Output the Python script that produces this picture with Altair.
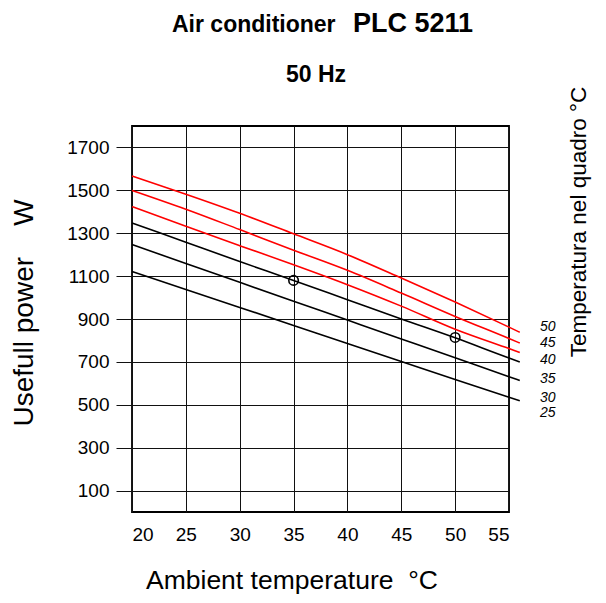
import altair as alt
import pandas as pd

# Ambient temperature (°C) at which the curves are read
temps = [20, 25, 30, 35, 40, 45, 50, 55, 56]

# Useful power (W) per cabinet temperature curve
power_50 = [1567, 1482, 1393, 1297, 1200, 1091, 979, 862, 838]
power_45 = [1500, 1412, 1317, 1221, 1127, 1021, 912, 809, 788]
power_40 = [1424, 1332, 1242, 1153, 1060, 960, 852, 762, 744]
power_35 = [1348, 1258, 1168, 1080, 990, 900, 812, 718, 700]
power_30 = [1247, 1159, 1071, 983, 895, 807, 719, 631, 613]
power_25 = [1122, 1038, 954, 870, 786, 702, 618, 535, 519]

series_names = ["50", "45", "40", "35", "30", "25"]
series_values = [power_50, power_45, power_40, power_35, power_30, power_25]
series_colors = ["#ff0000", "#ff0000", "#ff0000", "#000000", "#000000", "#000000"]

# Marked operating points
point_t = [35, 50]
point_w = [1080, 814]

# Curve labels on the right (value axis position of each label)
label_text = ["50", "45", "40", "35", "30", "25"]
label_w = [865, 788, 710, 620, 532, 462]

x_ticks = [20, 25, 30, 35, 40, 45, 50, 55]
y_ticks = list(range(100, 1800, 100))

FONT = "Liberation Sans"
NB = "\u00a0"

rows = []
for name, vals in zip(series_names, series_values):
    for t, w in zip(temps, vals):
        rows.append({"t": t, "w": w, "curve": name})
df_lines = pd.DataFrame(rows)
df_points = pd.DataFrame({"t": point_t, "w": point_w})
df_labels = pd.DataFrame({"label": label_text, "w": label_w})
one = pd.DataFrame({"a": [0]})

xscale = alt.Scale(domain=[20, 55], nice=False, zero=False)
yscale = alt.Scale(domain=[0, 1800], nice=False, zero=False)

xaxis = alt.Axis(values=x_ticks, grid=True, gridColor="#111111", gridWidth=1,
                 domain=False, ticks=False, labelPadding=13, labelFontSize=19,
                 labelColor="black", labelFont=FONT, title=None)
yaxis = alt.Axis(values=y_ticks, grid=True, gridColor="#111111", gridWidth=1,
                 domain=False, ticks=True, tickSize=16, tickColor="#111111",
                 tickWidth=1, labelPadding=7, labelFontSize=19, labelColor="black",
                 labelFont=FONT, format="d",
                 labelExpr="datum.value % 200 == 100 ? datum.label : ''", title=None)

lines = alt.Chart(df_lines).mark_line(strokeWidth=1.6, interpolate="monotone").encode(
    x=alt.X("t:Q", scale=xscale, axis=xaxis),
    y=alt.Y("w:Q", scale=yscale, axis=yaxis),
    color=alt.Color("curve:N", scale=alt.Scale(domain=series_names, range=series_colors), legend=None),
    detail="curve:N",
)

points = alt.Chart(df_points).mark_point(shape="circle", size=90, filled=False,
                                         color="black", strokeWidth=1.6, opacity=1).encode(
    x=alt.X("t:Q", scale=xscale),
    y=alt.Y("w:Q", scale=yscale),
)

labels = alt.Chart(df_labels).mark_text(align="left", baseline="middle", fontStyle="italic",
                                        fontSize=14, font=FONT, color="black").encode(
    x=alt.value(408),
    y=alt.Y("w:Q", scale=yscale),
    text="label:N",
)

def txt(s, x, y, size, bold=False, angle=0, align="left", baseline="alphabetic"):
    kw = dict(align=align, baseline=baseline, fontSize=size, font=FONT, color="black", text=s)
    if bold:
        kw["fontWeight"] = "bold"
    if angle:
        kw["angle"] = angle
    return alt.Chart(one).mark_text(**kw).encode(x=alt.value(x), y=alt.value(y))

title1 = txt("Air conditioner", 40, -94, 23, bold=True)
title2 = txt("PLC 5211", 221, -94, 27, bold=True)
title3 = txt("50 Hz", 154, -44, 23, bold=True)
xtitle = txt("Ambient temperature" + NB * 2 + "°C", 14, 463, 26.5)
ytitle = txt("Usefull power" + NB * 4 + "W", -99, 187, 28, angle=270, align="center")
rtitle = txt("Temperatura nel quadro °C", 454, 96, 22.5, angle=270, align="center")

chart = alt.layer(lines, points, labels, title1, title2, title3, xtitle, ytitle, rtitle).properties(
    width=377, height=386,
    autosize=alt.AutoSizeParams(type="none"),
    padding={"left": 124, "top": 118, "right": 89, "bottom": 83},
    background="white",
).configure_view(stroke="black", strokeWidth=1.8)

chart.save("out.html", embed_options={"renderer": "svg", "actions": False})
